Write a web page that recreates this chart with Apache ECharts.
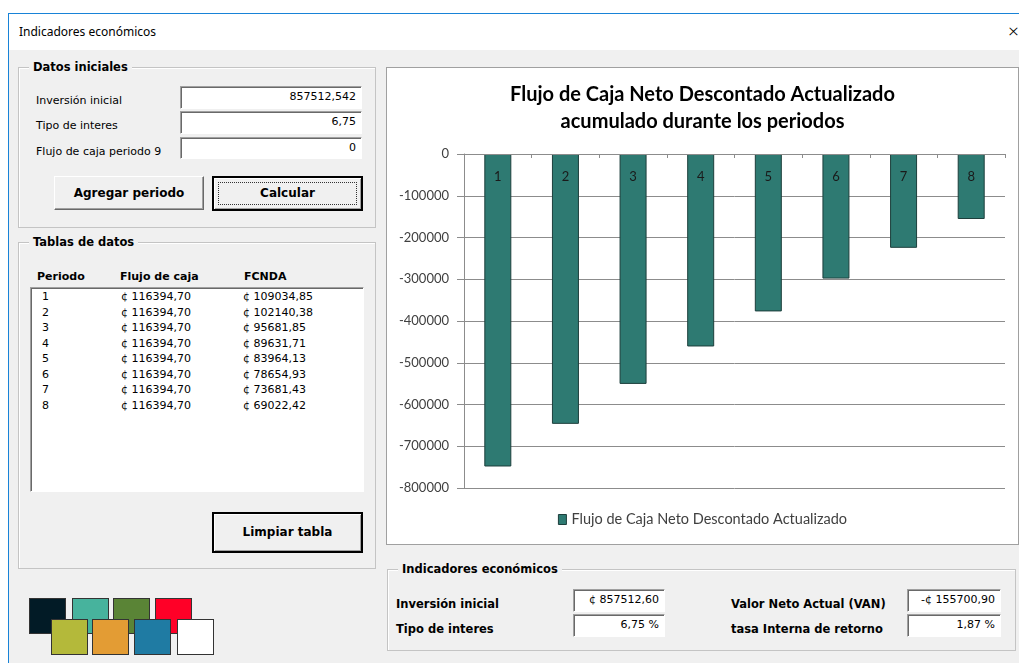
<!DOCTYPE html>
<html>
<head>
<meta charset="utf-8">
<script src="https://cdn.jsdelivr.net/npm/echarts@6/dist/echarts.min.js"></script>
<style>
  html, body { margin: 0; padding: 0; background: #fff; }
  body { width: 1019px; height: 663px; position: relative; overflow: hidden; font-family: "DejaVu Sans", sans-serif; font-size: 11px; color: #000; }
  .abs { position: absolute; }
  .win { left: 8px; top: 13px; width: 1020px; height: 660px; border-left: 1px solid #1883d7; border-top: 1px solid #1883d7; background: #f0f0f0; }
  .titlebar { left: 9px; top: 14px; width: 1010px; height: 36px; background: #fff; }
  .frame { border: 1px solid #c4c4c4; box-shadow: inset 1px 1px #fff; }
  .legend-lbl { background: #f0f0f0; font-weight: bold; padding: 0 4px; line-height: 14px; }
  .lbl { line-height: 14px; white-space: nowrap; }
  .bold { font-weight: bold; }
  .field { background: #fff; border-top: 1px solid #a0a0a0; border-left: 1px solid #a0a0a0; border-bottom: 1px solid #fff; border-right: 1px solid #fff; box-shadow: inset 1px 1px #696969; text-align: right; box-sizing: border-box; padding-right: 5px; line-height: 20px; white-space: nowrap; }
  .btn { box-sizing: border-box; background: #f0f0f0; border: 1px solid; border-color: #fff #696969 #696969 #fff; box-shadow: inset -1px -1px #a0a0a0; text-align: center; font-weight: bold; font-size: 12px; }
  .btn.def { border: 2px solid #000; box-shadow: inset 1px 1px #fff, inset -1px -1px #a0a0a0; }
  .focus { position: absolute; left: 4px; top: 4px; right: 4px; bottom: 4px; border: 1px dotted #333; }
  .list { background: #fff; border-top: 1px solid #a0a0a0; border-left: 1px solid #a0a0a0; border-bottom: 1px solid #fff; border-right: 1px solid #fff; box-shadow: inset 1px 1px #696969; box-sizing: border-box; }
  .sq { position: absolute; width: 35px; height: 34px; border: 1px solid #333; }
  #chart { position: absolute; left: 386px; top: 67px; width: 633px; height: 478px; background: #fff; border: 1px solid #a0a0a0; box-sizing: border-box; }
</style>
</head>
<body>
<div class="abs win"></div>
<div class="abs titlebar"></div>
<div class="abs lbl" style="left:19px;top:25px;font-family:'Noto Sans',sans-serif;font-size:12px;">Indicadores económicos</div>
<div class="abs lbl" style="left:1008px;top:21px;font-family:'Noto Sans',sans-serif;font-size:19px;line-height:20px;font-weight:300;">×</div>

<!-- Datos iniciales -->
<div class="abs frame" style="left:18px;top:67px;width:356px;height:159px;"></div>
<div class="abs legend-lbl" style="left:29px;top:60px;font-size:11.5px;">Datos iniciales</div>
<div class="abs lbl" style="left:36px;top:94px;">Inversión inicial</div>
<div class="abs lbl" style="left:36px;top:119px;">Tipo de interes</div>
<div class="abs lbl" style="left:36px;top:145px;">Flujo de caja periodo 9</div>
<div class="abs field" style="left:180px;top:86px;width:182px;height:23px;">857512,542</div>
<div class="abs field" style="left:180px;top:111px;width:182px;height:23px;">6,75</div>
<div class="abs field" style="left:180px;top:137px;width:182px;height:22px;">0</div>
<div class="abs btn" style="left:54px;top:176px;width:150px;height:34px;line-height:32px;">Agregar periodo</div>
<div class="abs btn def" style="left:212px;top:176px;width:151px;height:35px;line-height:31px;"><div class="focus"></div>Calcular</div>

<!-- Tablas de datos -->
<div class="abs frame" style="left:18px;top:242px;width:356px;height:325px;"></div>
<div class="abs legend-lbl" style="left:29px;top:235px;font-size:11.5px;">Tablas de datos</div>
<div class="abs lbl bold" style="left:37px;top:270px;">Periodo</div>
<div class="abs lbl bold" style="left:120px;top:270px;">Flujo de caja</div>
<div class="abs lbl bold" style="left:244px;top:270px;">FCNDA</div>
<div class="abs list" style="left:30px;top:287px;width:334px;height:205px;"></div>
<div id="rows"></div>
<div class="abs btn def" style="left:212px;top:512px;width:151px;height:41px;line-height:37px;">Limpiar tabla</div>

<!-- colour swatches -->
<div class="sq" style="left:29px;top:598px;background:#021b26;"></div>
<div class="sq" style="left:72px;top:598px;background:#47b39d;"></div>
<div class="sq" style="left:113px;top:598px;background:#5a8436;"></div>
<div class="sq" style="left:155px;top:598px;background:#ff0027;"></div>
<div class="sq" style="left:51px;top:619px;background:#b4b93a;"></div>
<div class="sq" style="left:92px;top:619px;background:#e39c34;"></div>
<div class="sq" style="left:134px;top:619px;background:#1f7ba3;"></div>
<div class="sq" style="left:177px;top:619px;background:#ffffff;"></div>

<!-- chart -->
<div id="chart"></div>

<!-- Indicadores económicos -->
<div class="abs frame" style="left:387px;top:569px;width:627px;height:80px;"></div>
<div class="abs legend-lbl" style="left:398px;top:562px;font-size:11.5px;">Indicadores económicos</div>
<div class="abs lbl bold" style="left:396px;top:597px;font-size:11.5px;">Inversión inicial</div>
<div class="abs lbl bold" style="left:396px;top:622px;font-size:11.5px;">Tipo de interes</div>
<div class="abs lbl bold" style="left:731px;top:597px;font-size:11.5px;">Valor Neto Actual (VAN)</div>
<div class="abs lbl bold" style="left:731px;top:622px;font-size:11.5px;">tasa Interna de retorno</div>
<div class="abs field" style="left:573px;top:589px;width:92px;height:23px;">¢ 857512,60</div>
<div class="abs field" style="left:573px;top:614px;width:92px;height:23px;">6,75 %</div>
<div class="abs field" style="left:907px;top:589px;width:94px;height:23px;">-¢ 155700,90</div>
<div class="abs field" style="left:907px;top:614px;width:94px;height:23px;">1,87 %</div>

<script>
// table rows
const periodos = ['1', '2', '3', '4', '5', '6', '7', '8'];
const flujoCaja = ['¢ 116394,70', '¢ 116394,70', '¢ 116394,70', '¢ 116394,70', '¢ 116394,70', '¢ 116394,70', '¢ 116394,70', '¢ 116394,70'];
const fcnda = ['¢ 109034,85', '¢ 102140,38', '¢ 95681,85', '¢ 89631,71', '¢ 83964,13', '¢ 78654,93', '¢ 73681,43', '¢ 69022,42'];

// accumulated discounted cash flow per period
const acumulado = [-748477.69, -646337.31, -550655.46, -461023.75, -377059.62, -298404.69, -224723.26, -155700.84];
const yTicks = { min: -800000, max: 0, step: 100000 };

let html = '';
periodos.forEach((p, i) => {
  const top = 290 + i * 15.5;
  html += '<div class="abs lbl" style="left:42px;top:' + top + 'px;">' + p + '</div>';
  html += '<div class="abs lbl" style="left:121px;top:' + top + 'px;">' + flujoCaja[i] + '</div>';
  html += '<div class="abs lbl" style="left:243px;top:' + top + 'px;">' + fcnda[i] + '</div>';
});
document.getElementById('rows').innerHTML = html;

const chart = echarts.init(document.getElementById('chart'), null, { renderer: 'canvas' });
const axisGray = '#8c8c8c';
chart.setOption({
  animation: false,
  textStyle: { fontFamily: 'Lato, sans-serif' },
  title: {
    text: 'Flujo de Caja Neto Descontado Actualizado\nacumulado durante los periodos',
    left: 'center',
    top: 8,
    textStyle: { fontSize: 20, fontWeight: 'bold', color: '#000', lineHeight: 27, fontFamily: 'Lato, sans-serif' }
  },
  legend: {
    bottom: 12,
    left: 'center',
    icon: 'rect',
    itemWidth: 8,
    itemHeight: 10,
    itemGap: 4,
    textStyle: { fontSize: 14.5, color: '#404040' },
    itemStyle: { borderColor: '#1d3f3c', borderWidth: 1 }
  },
  grid: { left: 77, right: 13, top: 86, bottom: 56 },
  xAxis: {
    type: 'category',
    position: 'top',
    data: periodos,
    z: 10,
    axisLine: { onZero: false, lineStyle: { color: axisGray } },
    axisTick: { show: true, inside: true, length: 4, alignWithLabel: false, lineStyle: { color: axisGray } },
    axisLabel: { inside: true, color: '#1a1a1a', fontSize: 13, margin: 16 }
  },
  yAxis: {
    type: 'value',
    min: yTicks.min,
    max: yTicks.max,
    interval: yTicks.step,
    axisLine: { show: true, lineStyle: { color: axisGray } },
    axisTick: { show: true, length: 7, lineStyle: { color: axisGray } },
    axisLabel: { color: '#404040', fontSize: 13, margin: 15, formatter: v => String(v) },
    splitLine: { lineStyle: { color: axisGray } }
  },
  series: [{
    name: 'Flujo de Caja Neto Descontado Actualizado',
    type: 'bar',
    data: acumulado,
    barWidth: 27,
    itemStyle: { color: '#2e7a72', borderColor: '#1d3f3c', borderWidth: 1 }
  }]
});
</script>
</body>
</html>
